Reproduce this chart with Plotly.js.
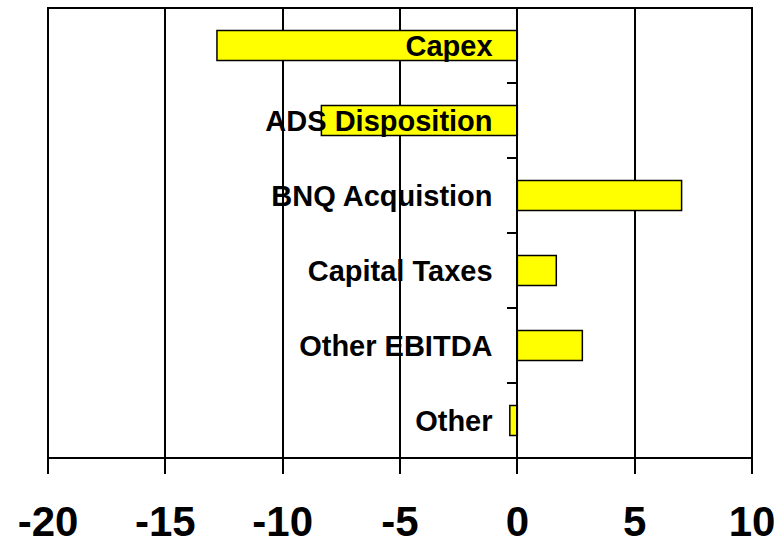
<!DOCTYPE html>
<html>
<head>
<meta charset="utf-8">
<script src="https://cdn.plot.ly/plotly-3.0.1.min.js"></script>
<style>html,body{margin:0;padding:0;background:#fff;}#chart{width:780px;height:547px;}</style>
</head>
<body>
<div id="chart"></div>
<script>
const categories = ["Capex", "ADS Disposition", "BNQ Acquistion", "Capital Taxes", "Other EBITDA", "Other"];
const values = [-12.8, -8.35, 7.0, 1.66, 2.77, -0.32];
const xTickValues = [-20, -15, -10, -5, 0, 5, 10];
const xTickLabels = ["-20", "-15", "-10", "-5", "0", "5", "10"];

const trace = {
  type: "bar",
  orientation: "h",
  x: values,
  y: categories,
  width: 0.4,
  marker: {color: "#FFFF00", line: {color: "#000000", width: 1.5}},
  hoverinfo: "skip"
};

const font = {family: "Liberation Sans, Arial, sans-serif", color: "#000", weight: "bold"};

const layout = {
  width: 780, height: 547,
  margin: {l: 48, r: 28, t: 8, b: 89},
  paper_bgcolor: "#fff", plot_bgcolor: "#fff",
  showlegend: false,
  font: font,
  xaxis: {
    range: [-20, 10],
    tickvals: xTickValues,
    ticktext: xTickLabels,
    ticks: "outside", ticklen: 15, tickwidth: 2, tickcolor: "#000",
    showgrid: true, gridcolor: "#000", gridwidth: 1.8,
    zeroline: false, showline: false,
    tickfont: {family: "Liberation Sans, Arial, sans-serif", size: 42, color: "#000", weight: "bold"},
    ticklabelstandoff: 12
  },
  yaxis: {
    type: "category",
    categoryorder: "array", categoryarray: categories,
    autorange: "reversed",
    anchor: "free", position: 2/3,
    showline: true, linecolor: "#000", linewidth: 2,
    ticks: "outside", ticklen: 9, tickwidth: 2, tickcolor: "#000",
    tickson: "boundaries",
    showgrid: false, zeroline: false,
    tickfont: {family: "Liberation Sans, Arial, sans-serif", size: 29, color: "#000", weight: "bold"},
    ticklabelstandoff: 18
  },
  shapes: [{
    type: "rect", xref: "paper", yref: "paper", x0: 0, x1: 1, y0: 0, y1: 1,
    line: {color: "#000", width: 2}, fillcolor: "rgba(0,0,0,0)", layer: "above"
  }]
};

Plotly.newPlot("chart", [trace], layout, {displayModeBar: false, staticPlot: true});
</script>
</body>
</html>
